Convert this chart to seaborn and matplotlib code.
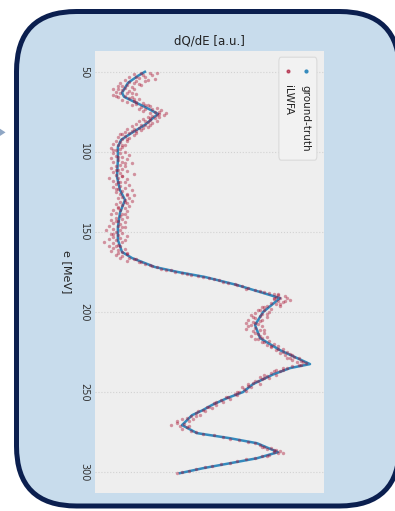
import numpy as np
import pandas as pd
import seaborn as sns
import matplotlib.pyplot as plt
from matplotlib.patches import FancyBboxPatch, Polygon

# iLWFA reconstruction (blue): energy [MeV] vs dQ/dE [a.u.]
pred_energy = [50.0, 52.5, 56.9, 63.1, 65.6, 68.1, 71.9, 76.3, 83.1, 88.8,
               92.5, 96.9, 105.0, 115.6, 123.8, 130.0, 138.1, 146.9, 155.0, 162.5,
               166.3, 171.9, 175.0, 178.1, 183.1, 187.5, 191.3, 200.0, 208.1, 216.3,
               223.8, 232.5, 235.0, 239.0, 245.0, 250.0, 253.8, 258.1, 261.3, 264.4,
               270.6, 275.6, 278.8, 281.9, 287.5, 291.3, 294.4, 297.5, 300.6]
pred_dqde = [21.8, 18.8, 14.4, 11.8, 12.7, 16.2, 21.8, 27.5, 21.8, 15.3,
             11.4, 10.0, 10.0, 9.6, 10.9, 13.1, 10.9, 10.0, 10.0, 11.8,
             16.2, 26.2, 36.2, 48.0, 62.0, 72.1, 80.8, 73.4, 69.9, 72.1,
             80.8, 93.9, 85.2, 77.7, 69.0, 64.6, 57.6, 51.0, 47.0, 42.4,
             38.0, 44.5, 59.0, 70.7, 79.9, 70.7, 59.0, 47.2, 37.1]

# ground-truth samples (red dots)
truth_energy = [
    50.5, 51, 51.5, 52, 52, 53, 53.5, 54, 54.5, 55,
    55.5, 56, 56.5, 57, 57.5, 58, 58.5, 59, 59.5, 60,
    60.5, 61, 61.5, 62, 62.5, 63, 63.5, 64, 64.5, 65,
    65.5, 66, 66.5, 67, 67.5, 68, 69, 69.5, 70, 70.5,
    71, 71.5, 72, 72.5, 73, 73.5, 74, 74.5, 75, 75.5,
    76, 76.5, 77, 77.5, 78, 78.5, 79, 79.5, 80, 80.5,
    81, 81.5, 82, 82.5, 83, 83.5, 84, 84.5, 85, 85.5,
    86, 86.5, 87, 87.5, 88, 88.5, 89, 89.5, 90, 91,
    91.5, 92, 93, 93.5, 94, 95, 95.5, 96, 97, 97.5,
    98, 99, 100, 100.5, 101, 102, 102.5, 103, 104, 104.5,
    105, 106, 106.5, 107, 108, 108.5, 109, 110, 110.5, 111,
    112, 112.5, 113, 114, 114.5, 115, 116, 116.5, 117, 118,
    118.5, 119, 120, 120.5, 121, 122, 122.5, 123, 124, 124.5,
    125, 126, 126.5, 127, 128, 128.5, 129, 130, 130.5, 131,
    132, 132.5, 133, 134, 134.5, 135, 136, 136.5, 137, 138,
    138.5, 139, 140, 140.5, 141, 142, 142.5, 143, 144, 144.5,
    145, 146, 146.5, 147, 148, 148.5, 149, 150, 150.5, 151,
    152, 152.5, 153, 154, 154.5, 155, 156, 156.5, 157, 158,
    158.5, 159, 160, 160.5, 161, 162, 162.5, 163, 164, 164.5,
    165, 166, 166.5, 167, 168, 168.5, 169, 170, 170.5, 171,
    172, 173, 173.5, 174, 175, 175.5, 176, 177, 177.5, 178,
    179, 179.5, 180, 181, 182, 182.5, 183, 184, 185, 185.5,
    186, 187, 187.5, 188, 189, 189.5, 190, 190.5, 191, 191.5,
    192, 192.5, 193, 194, 194.5, 195, 196, 196.5, 197, 198,
    198.5, 199, 200, 200.5, 201, 202, 202.5, 203, 204, 205,
    205.5, 206, 207, 207.5, 208, 209, 210, 210.5, 211, 212,
    213, 214, 215, 215.5, 216, 217, 218, 219, 220, 220.5,
    221, 222, 223, 224, 225, 225.5, 226, 227, 228, 228.5,
    229, 230, 230.5, 231, 232, 233, 234, 235, 236, 236.5,
    237, 238, 239, 240, 240.5, 241, 242, 243, 244, 245,
    246, 247, 248, 249, 250, 251, 252, 253, 254, 255,
    256, 257, 258, 259, 260, 261, 262, 263, 264, 265,
    266, 266.5, 267, 268, 269, 270, 270.5, 271, 272, 273,
    274, 275, 276, 277, 278, 279, 280, 281, 282, 283,
    284, 285, 285.5, 286, 287, 287.5, 288, 289, 290, 291,
    292, 293, 294, 295, 296, 297, 298, 299, 300, 300.5,
    # second pass over the noisier stretches
    51, 53, 55, 57, 59, 61, 63, 65, 67, 69,
    71, 73, 75, 77, 79, 81, 83, 85, 87, 89,
    92, 96, 99, 103, 107, 111, 115, 119, 123, 127,
    131, 135, 139, 143, 147, 151, 155, 159, 163, 167,
    189, 191, 193, 195, 197, 199, 201, 203, 205, 207,
    209, 211, 213, 215, 217, 219, 221, 223, 225, 227,
    229, 231, 233, 235, 237, 239, 241, 243, 245, 247,
    250, 253, 256, 259, 262, 265, 268, 271, 284, 286,
    288, 290]
truth_dqde = [
    24, 27, 17, 25, 21, 15, 22, 19, 26, 13,
    18, 22, 15, 11, 19, 14, 20, 10, 16, 13,
    8, 17, 12, 15, 9, 14, 11, 18, 8, 13,
    16, 10, 15, 19, 12, 17, 14, 21, 18, 23,
    16, 24, 20, 27, 22, 25, 29, 21, 26, 31,
    24, 28, 30, 25, 23, 28, 26, 21, 24, 27,
    19, 23, 25, 18, 22, 20, 16, 23, 19, 17,
    14, 20, 16, 13, 18, 15, 11, 17, 13, 10,
    15, 12, 9, 14, 11, 8, 13, 10, 12, 7,
    11, 9, 13, 8, 11, 15, 9, 12, 7, 14,
    10, 12, 8, 16, 11, 9, 13, 7, 12, 10,
    14, 8, 11, 17, 9, 12, 6, 10, 14, 8,
    11, 13, 9, 15, 11, 8, 13, 10, 16, 12,
    9, 14, 11, 17, 12, 15, 10, 13, 16, 11,
    14, 9, 12, 15, 10, 13, 8, 11, 14, 9,
    12, 7, 11, 14, 9, 12, 7, 10, 13, 8,
    11, 6, 10, 13, 8, 11, 5, 9, 12, 7,
    10, 14, 8, 11, 6, 9, 12, 4, 8, 10,
    6, 11, 8, 13, 10, 7, 12, 10, 14, 9,
    12, 15, 11, 17, 14, 19, 20, 22, 24, 25,
    27, 29, 31, 33, 35, 38, 40, 42, 45, 47,
    50, 52, 54, 56, 58, 61, 62, 64, 67, 66,
    70, 72, 74, 76, 78, 80, 83, 79, 84, 81,
    78, 85, 80, 82, 77, 79, 75, 81, 73, 77,
    71, 74, 76, 70, 73, 68, 72, 75, 70, 67,
    72, 69, 66, 71, 68, 73, 70, 66, 72, 69,
    74, 71, 68, 75, 73, 70, 76, 74, 78, 75,
    80, 77, 82, 79, 84, 81, 85, 83, 87, 84,
    89, 86, 90, 88, 92, 89, 86, 84, 82, 79,
    81, 77, 79, 75, 72, 76, 73, 71, 69, 72,
    67, 68, 65, 66, 63, 61, 62, 58, 59, 55,
    56, 52, 53, 49, 51, 47, 48, 44, 46, 42,
    40, 43, 38, 41, 36, 39, 33, 37, 40, 38,
    42, 44, 47, 52, 56, 59, 63, 67, 70, 72,
    74, 77, 75, 79, 81, 78, 80, 76, 73, 70,
    66, 62, 59, 55, 51, 48, 44, 41, 38, 36,
    20, 18, 23, 17, 12, 10, 16, 9, 17, 18,
    22, 19, 28, 27, 24, 22, 24, 21, 18, 12,
    14, 12, 8, 10, 13, 9, 12, 10, 9, 14,
    13, 10, 13, 9, 12, 8, 13, 9, 14, 18,
    80, 78, 83, 81, 74, 72, 75, 69, 73, 70,
    67, 74, 70, 72, 71, 73, 77, 80, 82, 86,
    85, 91, 90, 82, 78, 74, 74, 70, 67, 64,
    62, 57, 53, 50, 45, 44, 36, 41, 73, 78,
    82, 75]

energy_ticks = [50, 100, 150, 200, 250, 300]
legend_labels = ['ground-truth', 'iLWFA']

blue = '#348ABD'
red = '#A60628'

pred = pd.DataFrame({'energy': pred_energy, 'dqde': pred_dqde})
truth = pd.DataFrame({'energy': truth_energy, 'dqde': truth_dqde})

plt.rcParams['font.family'] = 'DejaVu Sans'
fig = plt.figure(figsize=(3.95, 5.11), dpi=100)

# rounded card behind the chart
card = FancyBboxPatch((0.165, 0.05), 3.83, 4.945,
                      boxstyle='round,pad=0,rounding_size=0.6',
                      transform=fig.dpi_scale_trans,
                      facecolor='#c8dcec', edgecolor='#0b1f4f',
                      linewidth=3.6, zorder=0)
fig.add_artist(card)
arrow = Polygon([[0.0, 0.748], [0.014, 0.741], [0.0, 0.734]], closed=True,
                transform=fig.transFigure, facecolor='#8fa6c4',
                edgecolor='none')
fig.add_artist(arrow)

ax = fig.add_axes([0.2405, 0.0352, 0.5797, 0.865])
ax.set_facecolor('#eeeeee')
for s in ax.spines.values():
    s.set_visible(False)

sns.lineplot(data=pred, x='dqde', y='energy', ax=ax, color=blue,
             orient='y', estimator=None, linewidth=1.8, zorder=2)
sns.scatterplot(data=truth, x='dqde', y='energy', ax=ax, color=red,
                alpha=0.4, s=6, linewidth=0, zorder=3)

ax.set_xlim(0, 100)
ax.set_ylim(313, 37)
ax.set_yticks(energy_ticks)
ax.set_yticklabels([str(t) for t in energy_ticks], rotation=-90,
                   va='center', ha='center', fontsize=7, color='#333333')
ax.tick_params(axis='y', length=0, pad=8)
ax.set_xticks([])
ax.set_xlabel('')
ax.grid(axis='y', color='#d2d2d2', linestyle=':', linewidth=0.8)
ax.set_axisbelow(True)
ax.set_ylabel('e [MeV]', rotation=-90, fontsize=8, labelpad=12,
              color='#222222')
ax.set_title('dQ/dE [a.u.]', fontsize=8.5, pad=5, color='#222222')

# legend drawn sideways, like the rest of the card
leg_box = FancyBboxPatch((0.803, 0.753), 0.166, 0.233,
                         boxstyle='round,pad=0,rounding_size=0.01',
                         transform=ax.transAxes, facecolor='#f2f2f2',
                         edgecolor='#dadada', linewidth=0.8, zorder=4)
ax.add_patch(leg_box)
ax.scatter([0.921], [0.955], transform=ax.transAxes, s=4, color=blue,
           zorder=5)
ax.scatter([0.843], [0.955], transform=ax.transAxes, s=4, color=red,
           alpha=0.6, zorder=5)
ax.text(0.917, 0.922, legend_labels[0], transform=ax.transAxes,
        rotation=-90, ha='center', va='top', fontsize=7.5, zorder=5,
        color='#222222')
ax.text(0.845, 0.922, legend_labels[1], transform=ax.transAxes,
        rotation=-90, ha='center', va='top', fontsize=7.5, zorder=5,
        color='#222222')

fig.savefig('out.png', dpi=100)
